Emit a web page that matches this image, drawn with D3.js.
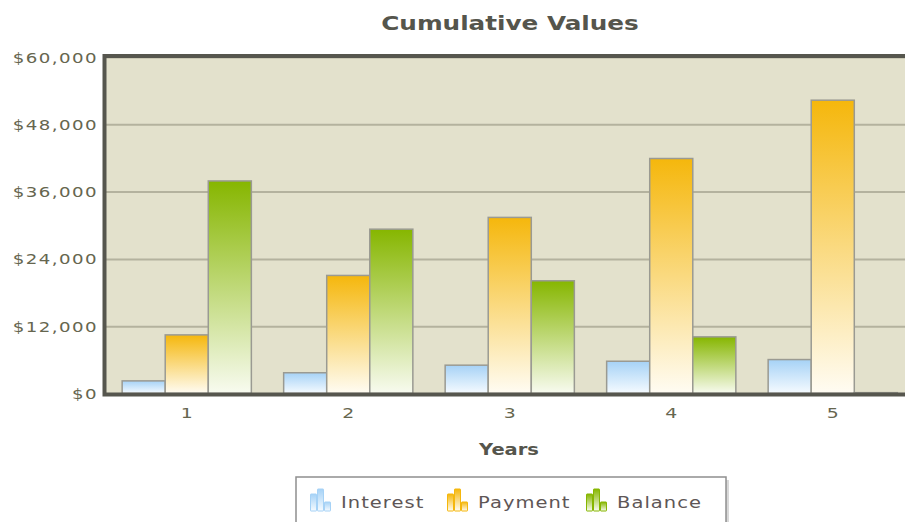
<!DOCTYPE html>
<html>
<head>
<meta charset="utf-8">
<script src="https://cdn.jsdelivr.net/npm/d3@7"></script>
<style>
  body { margin: 0; background: #fff; }
  svg { display: block; }
  svg text { font-family: "DejaVu Sans", Verdana, sans-serif; }
</style>
</head>
<body>
<div id="chart"></div>
<script>
// Chart data
var years = ["1", "2", "3", "4", "5"];
var seriesNames = ["Interest", "Payment", "Balance"];
var interest = [2250, 3700, 5050, 5750, 6050];
var payment = [10450, 21050, 31400, 41900, 52300];
var balance = [37900, 29300, 20100, 10100, 150];
var yTicks = [0, 12000, 24000, 36000, 48000, 60000];

// Colours for each series: top of gradient, bottom of gradient
var colors = {
  Interest: ["#a6d2f6", "#f6fbff"],
  Payment: ["#f5b70c", "#fffcf3"],
  Balance: ["#86b600", "#f8fbf0"]
};

var W = 905, H = 522;
var plot = { left: 106, top: 57, right: 913.5, bottom: 393.5 };
var stretch = 1.3; // text in the picture is drawn wide

var svg = d3.select("#chart").append("svg")
  .attr("width", W)
  .attr("height", H);

// Gradients for the bars
var defs = svg.append("defs");
seriesNames.forEach(function(name) {
  var g = defs.append("linearGradient")
    .attr("id", "grad-" + name)
    .attr("x1", 0).attr("y1", 0).attr("x2", 0).attr("y2", 1);
  g.append("stop").attr("offset", "0%").attr("stop-color", colors[name][0]);
  g.append("stop").attr("offset", "100%").attr("stop-color", colors[name][1]);
});

// Scales
var x0 = d3.scaleBand()
  .domain(years)
  .range([plot.left, plot.right])
  .paddingInner(0.2)
  .paddingOuter(0.1);

var x1 = d3.scaleBand()
  .domain(seriesNames)
  .range([0, x0.bandwidth()]);

var y = d3.scaleLinear()
  .domain([0, 60000])
  .range([plot.bottom, plot.top]);

// Plot background
svg.append("rect")
  .attr("x", plot.left)
  .attr("y", plot.top)
  .attr("width", plot.right - plot.left)
  .attr("height", plot.bottom - plot.top)
  .attr("fill", "#e3e1cc");

// Gridlines and y labels
var yAxis = svg.append("g")
  .attr("transform", "translate(" + plot.left + ",0)")
  .call(d3.axisLeft(y)
    .tickValues(yTicks)
    .tickSize(-(plot.right - plot.left))
    .tickFormat(function(d) { return "$" + d3.format(",")(d); }));

yAxis.attr("font-family", null);
yAxis.select(".domain").remove();
yAxis.selectAll("line")
  .attr("stroke", "#b4b29e")
  .attr("stroke-width", 2);
yAxis.selectAll("text")
  .attr("x", -8 / stretch)
  .attr("dy", "0.36em")
  .attr("transform", "scale(" + stretch + ",1)")
  .attr("fill", "#66664f")
  .attr("font-size", 14)
  .attr("letter-spacing", 1.1);

// Bars
var rows = years.map(function(yr, i) {
  return { year: yr, values: { Interest: interest[i], Payment: payment[i], Balance: balance[i] } };
});

var groups = svg.selectAll(".group")
  .data(rows)
  .enter().append("g")
  .attr("class", "group")
  .attr("transform", function(d) { return "translate(" + x0(d.year) + ",0)"; });

groups.selectAll("rect")
  .data(function(d) {
    return seriesNames.map(function(name) { return { name: name, value: d.values[name] }; });
  })
  .enter().append("rect")
  .attr("x", function(d) { return x1(d.name); })
  .attr("y", function(d) { return y(d.value); })
  .attr("width", x1.bandwidth())
  .attr("height", function(d) { return y(0) - y(d.value); })
  .attr("fill", function(d) { return "url(#grad-" + d.name + ")"; })
  .attr("stroke", "#9a9a92")
  .attr("stroke-width", 1.5);

// Plot frame (left, top and bottom edges)
svg.append("path")
  .attr("d", "M" + (plot.right + 10) + "," + (plot.top - 1) + "H" + (plot.left - 1.5) + "V" + (plot.bottom + 1) + "H" + (plot.right + 10))
  .attr("fill", "none")
  .attr("stroke", "#56564e")
  .attr("stroke-width", 4);

// X labels
var xAxis = svg.append("g")
  .attr("transform", "translate(0," + plot.bottom + ")")
  .call(d3.axisBottom(x0).tickSize(0).tickPadding(0));

xAxis.attr("font-family", null);
xAxis.select(".domain").remove();
xAxis.selectAll("text")
  .attr("y", 0)
  .attr("dy", 0)
  .attr("transform", "translate(0,24) scale(" + stretch + ",1)")
  .attr("fill", "#66664f")
  .attr("font-size", 14.5);

// Title
svg.append("text")
  .attr("transform", "translate(510,30) scale(" + stretch + ",1)")
  .attr("text-anchor", "middle")
  .attr("font-weight", "bold")
  .attr("font-size", 19)
  .attr("fill", "#55554c")
  .text("Cumulative Values");

// X axis title
svg.append("text")
  .attr("transform", "translate(509,455) scale(" + stretch + ",1)")
  .attr("text-anchor", "middle")
  .attr("font-weight", "bold")
  .attr("font-size", 15)
  .attr("fill", "#55554c")
  .text("Years");

// Legend
var legend = svg.append("g");
legend.append("rect")
  .attr("x", 299).attr("y", 480)
  .attr("width", 430).attr("height", 60)
  .attr("fill", "#d8d8d8");
legend.append("rect")
  .attr("x", 296).attr("y", 477)
  .attr("width", 430).attr("height", 60)
  .attr("fill", "#fff")
  .attr("stroke", "#8f8f8f")
  .attr("stroke-width", 1.5);

var legendX = [310, 447, 586];
var iconBars = [[0, 17], [7, 22], [14, 9]]; // [x offset, height] of the three little bars

var items = legend.selectAll(".item")
  .data(seriesNames)
  .enter().append("g")
  .attr("class", "item")
  .attr("transform", function(d, i) { return "translate(" + legendX[i] + ",0)"; });

items.selectAll("rect")
  .data(function(d) { return iconBars.map(function(b) { return { name: d, dx: b[0], h: b[1] }; }); })
  .enter().append("rect")
  .attr("x", function(d) { return d.dx + 0.5; })
  .attr("y", function(d) { return 511 - d.h; })
  .attr("width", 6)
  .attr("height", function(d) { return d.h; })
  .attr("rx", 0.5)
  .attr("fill", function(d) { return "url(#grad-" + d.name + ")"; })
  .attr("stroke", function(d) { return colors[d.name][0]; })
  .attr("stroke-width", 1);

items.append("text")
  .attr("transform", "translate(31,508) scale(" + stretch + ",1)")
  .attr("font-size", 15)
  .attr("letter-spacing", 0.8)
  .attr("fill", "#5e5656")
  .text(function(d) { return d; });
</script>
</body>
</html>
